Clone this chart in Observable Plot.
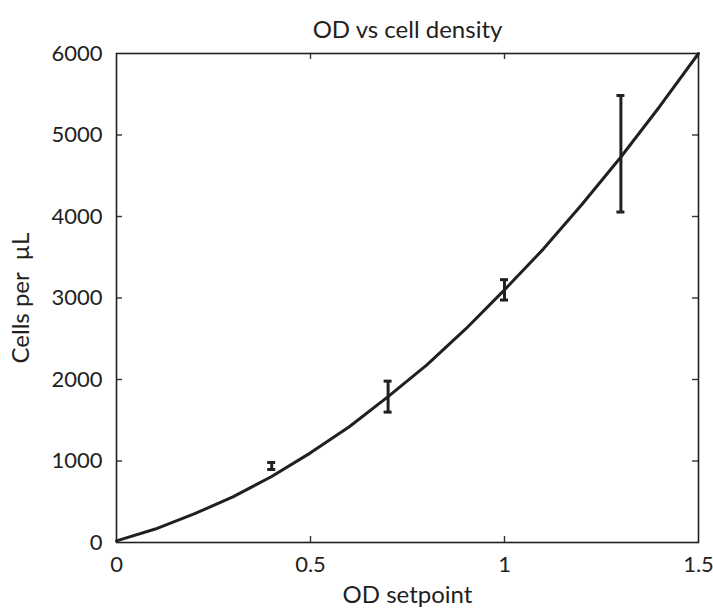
<!DOCTYPE html>
<html>
<head>
<meta charset="utf-8">
<script src="https://cdn.jsdelivr.net/npm/d3@7"></script>
<script src="https://cdn.jsdelivr.net/npm/@observablehq/plot@0.6"></script>
<style>
  html, body { margin: 0; padding: 0; background: #fff; }
</style>
</head>
<body>
<div id="chart"></div>
<script>
// Measured cell densities at each OD setpoint (mean and error half-width)
const odSetpoints = [0.4, 0.7, 1.0, 1.3];
const meanCells = [939, 1790, 3100, 4770];
const errCells = [43, 190, 125, 715];

// Calibration curve through the measurements
const fitOD = [0, 0.1, 0.2, 0.3, 0.4, 0.5, 0.6, 0.7, 0.8, 0.9, 1.0, 1.1, 1.2, 1.3, 1.4, 1.5];
const fitCells = [20, 165, 350, 560, 810, 1100, 1420, 1790, 2180, 2620, 3100, 3600, 4150, 4730, 5350, 6000];

// Axis ticks
const xTicks = [0, 0.5, 1, 1.5];
const yTicks = [0, 1000, 2000, 3000, 4000, 5000, 6000];
const xInnerTicks = [0.5, 1];
const yInnerTicks = [1000, 2000, 3000, 4000, 5000];

const titleText = "OD vs cell density";
const xLabel = "OD setpoint";
const yLabel = "Cells per\u00a0 µL";

const ink = "#231f20";
const tickFont = 22;
const labelFont = 24;
const tickLen = 6;

const xMin = xTicks[0], xMax = xTicks[xTicks.length - 1];
const yMin = yTicks[0], yMax = yTicks[yTicks.length - 1];

const measurements = odSetpoints.map((od, i) => ({
  od, lo: meanCells[i] - errCells[i], hi: meanCells[i] + errCells[i]
}));
const fit = fitOD.map((od, i) => ({od, cells: fitCells[i]}));

const tickStyle = {stroke: "#333", strokeWidth: 1.4};

const chart = Plot.plot({
  width: 713,
  height: 611,
  marginLeft: 116,
  marginRight: 15,
  marginTop: 53,
  marginBottom: 69,
  style: {fontFamily: "Lato, sans-serif", color: ink, background: "#fff"},
  x: {domain: [xMin, xMax]},
  y: {domain: [yMin, yMax]},
  marks: [
    // tick labels
    Plot.axisX(xTicks, {anchor: "bottom", tickSize: 0, tickPadding: 14, fontSize: tickFont, label: null, tickFormat: d => String(d)}),
    Plot.axisY(yTicks, {anchor: "left", tickSize: 0, tickPadding: 14, fontSize: tickFont, label: null, tickFormat: d => String(d)}),
    // inward ticks on all four sides of the box
    Plot.ruleX(xInnerTicks, {x: d => d, y1: () => yMin, y2: () => yMin, insetTop: -tickLen, ...tickStyle}),
    Plot.ruleX(xInnerTicks, {x: d => d, y1: () => yMax, y2: () => yMax, insetBottom: -tickLen, ...tickStyle}),
    Plot.ruleY(yInnerTicks, {y: d => d, x1: () => xMin, x2: () => xMin, insetRight: -tickLen, ...tickStyle}),
    Plot.ruleY(yInnerTicks, {y: d => d, x1: () => xMax, x2: () => xMax, insetLeft: -tickLen, ...tickStyle}),
    Plot.frame({stroke: ink, strokeWidth: 1.6}),
    // calibration curve
    Plot.line(fit, {x: "od", y: "cells", stroke: ink, strokeWidth: 3}),
    // error bars with caps
    Plot.ruleX(measurements, {x: "od", y1: "lo", y2: "hi", stroke: ink, strokeWidth: 3}),
    Plot.ruleY(measurements, {y: "hi", x1: "od", x2: "od", insetLeft: -4, insetRight: -4, stroke: ink, strokeWidth: 3}),
    Plot.ruleY(measurements, {y: "lo", x1: "od", x2: "od", insetLeft: -4, insetRight: -4, stroke: ink, strokeWidth: 3}),
    // title and axis labels
    Plot.text([titleText], {text: d => d, frameAnchor: "top", dy: -33, fontSize: labelFont, fill: ink}),
    Plot.text([xLabel], {text: d => d, frameAnchor: "bottom", dy: 60, fontSize: labelFont, fill: ink}),
    Plot.text([yLabel], {text: d => d, frameAnchor: "left", textAnchor: "middle", dx: -95, rotate: -90, fontSize: labelFont, fill: ink})
  ]
});

document.getElementById("chart").appendChild(chart);
</script>
</body>
</html>
